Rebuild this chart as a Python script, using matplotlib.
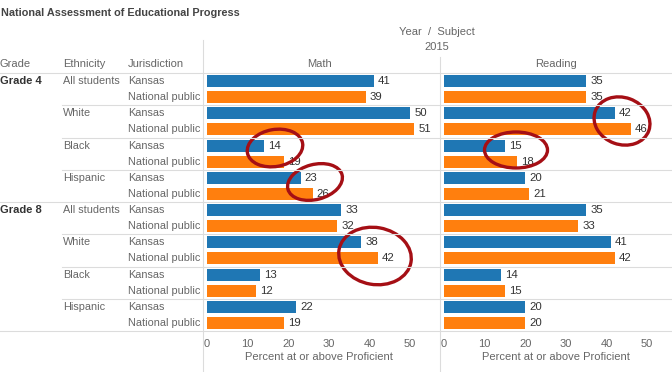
import matplotlib
matplotlib.use("Agg")
import matplotlib.pyplot as plt
from matplotlib.patches import Ellipse
import numpy as np

plt.rcParams['font.family'] = ['Liberation Sans', 'DejaVu Sans']

# ---- data ----
title = "National Assessment of Educational Progress"
year = "2015"
subjects = ["Math", "Reading"]
grades = ["Grade 4", "Grade 8"]
ethnicities = ["All students", "White", "Black", "Hispanic"]
jurisdictions = ["Kansas", "National public"]
math = [41, 39, 50, 51, 14, 19, 23, 26, 33, 32, 38, 42, 13, 12, 22, 19]
reading = [35, 35, 42, 46, 15, 18, 20, 21, 35, 33, 41, 42, 14, 15, 20, 20]
ticks = [0, 10, 20, 30, 40, 50]
xlabel = "Percent at or above Proficient"

BLUE = "#1f77b4"
ORANGE = "#ff7f0e"
GRID = "#dcdcdc"
TXT = "#333333"
GRAY = "#666666"

W, H = 672, 372
fig = plt.figure(figsize=(W / 100, H / 100), dpi=100)

top, bottom = 73, 331
nrows = len(grades) * len(ethnicities) * len(jurisdictions)
rowh = (bottom - top) / nrows

def fr(l, r):
    return [l / W, (H - bottom) / H, (r - l) / W, (bottom - top) / H]

panels = [(203, 435), (440, 672)]
colors = [BLUE, ORANGE] * (nrows // 2)
ys = np.arange(nrows)
for (l, r), vals in zip(panels, [math, reading]):
    ax = fig.add_axes(fr(l, r))
    bars = ax.barh(ys, vals, height=0.74, color=colors)
    ax.bar_label(bars, labels=[str(v) for v in vals], padding=3, fontsize=8.2, color=TXT)
    ax.set_xlim(-1, 56.1)
    ax.set_ylim(nrows - 0.5, -0.5)
    ax.set_yticks([])
    ax.set_xticks(ticks)
    ax.tick_params(axis='x', length=0, pad=6, labelsize=8, labelcolor=GRAY)
    ax.set_xlabel(xlabel, fontsize=8, color=GRAY, labelpad=2)
    for s in ax.spines.values():
        s.set_visible(False)

# overlay in pixel coordinates
ov = fig.add_axes([0, 0, 1, 1], zorder=5)
ov.set_xlim(0, W)
ov.set_ylim(H, 0)
ov.axis('off')
ov.patch.set_alpha(0)

ov.text(1, 13, title, fontsize=7.8, fontweight='bold', color="#444444", va='center', ha='left')
ov.text(437, 32, "Year  /  Subject", fontsize=8, color=GRAY, va='center', ha='center')
ov.text(437, 47, year, fontsize=8, color=GRAY, va='center', ha='center')
for (l, r), s in zip(panels, subjects):
    ov.text((l + r) / 2, 64, s, fontsize=8, color=GRAY, va='center', ha='center')
ov.text(0, 64, "Grade", fontsize=8, color=GRAY, va='center')
ov.text(63, 64, "Ethnicity", fontsize=8, color=GRAY, va='center')
ov.text(128, 64, "Jurisdiction", fontsize=8, color=GRAY, va='center')

# header line
ov.plot([0, W], [top, top], color=GRID, lw=0.8)

i = 0
for g in grades:
    for k, e in enumerate(ethnicities):
        yc = top + (i + 0.5) * rowh
        if k == 0:
            ov.text(0, yc, g, fontsize=8, fontweight='bold', color=TXT, va='center')
        ov.text(63, yc, e, fontsize=7.8, color=GRAY, va='center')
        for j, jur in enumerate(jurisdictions):
            ov.text(128, top + (i + j + 0.5) * rowh, jur, fontsize=7.8, color=GRAY, va='center')
        i += len(jurisdictions)
        yb = top + i * rowh
        x0 = 0 if (k == len(ethnicities) - 1) else 62
        ov.plot([x0, W], [yb, yb], color=GRID, lw=0.8)

# vertical panel lines
ov.plot([203, 203], [40, H], color=GRID, lw=0.8)
ov.plot([440, 440], [57, H], color=GRID, lw=0.8)

# hand-drawn red annotations
RED = "#a50f15"
circles = [((275, 148), 56, 37, -10), ((315, 182), 56, 35, -15),
           ((622, 121), 57, 47, 20), ((516, 150), 63, 36, 0),
           ((375, 256), 73, 57, 10)]
for c, w, h, a in circles:
    ov.add_patch(Ellipse(c, w, h, angle=a, fill=False, ec=RED, lw=2.4))

fig.savefig("out.png", dpi=100)
